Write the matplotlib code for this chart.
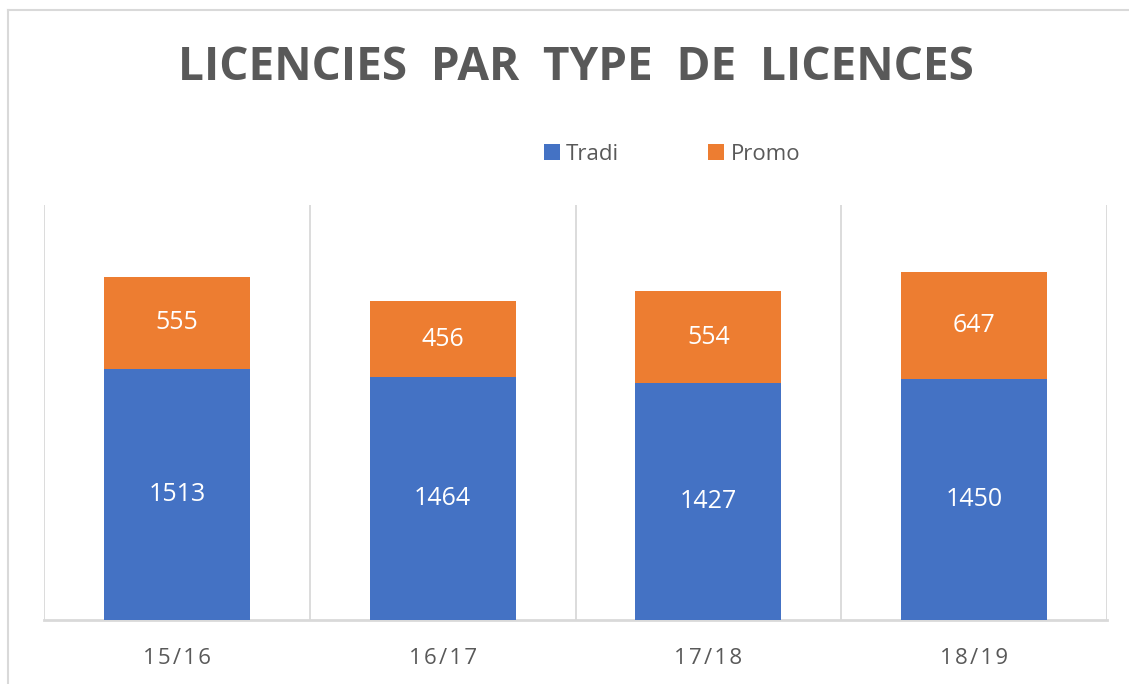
import matplotlib.pyplot as plt
from matplotlib.lines import Line2D
import numpy as np

seasons = ["15/16", "16/17", "17/18", "18/19"]
tradi = [1513, 1464, 1427, 1450]
promo = [555, 456, 554, 647]

blue = "#4472C4"
orange = "#ED7D31"
grey_txt = "#595959"
grid_col = "#D9D9D9"

plt.rcParams['font.family'] = ['Open Sans', 'DejaVu Sans']

fig = plt.figure(figsize=(11.29, 6.84), dpi=100)
ax = fig.add_axes([44/1129, 64/684, (1107-44)/1129, (620-205)/684])

x = np.arange(len(seasons))
b1 = ax.bar(x, tradi, width=0.55, color=blue, label="Tradi", zorder=3)
b2 = ax.bar(x, promo, width=0.55, bottom=tradi, color=orange, label="Promo", zorder=3)

for bars in (b1, b2):
    ax.bar_label(bars, label_type="center", color="white", fontsize=18)

ax.set_xlim(-0.5, len(seasons) - 0.5)
ax.set_ylim(0, 2500)
ax.set_yticks([])
ax.set_xticks(x)
ax.set_xticklabels(["\u200a".join(s) for s in seasons], color=grey_txt, fontsize=16)
ax.tick_params(axis="x", length=0, pad=20)

# vertical separators between categories
ax.set_xticks(np.arange(-0.5, len(seasons)), minor=True)
ax.tick_params(axis="x", which="minor", length=0)
ax.grid(axis="x", which="minor", color=grid_col, linewidth=1.3, zorder=0)

for side in ("top", "right", "left"):
    ax.spines[side].set_visible(False)
ax.spines["bottom"].set_color(grid_col)
ax.spines["bottom"].set_linewidth(2)

fig.text(576/1129, 1 - 68/684, "LICENCIES  PAR  TYPE  DE  LICENCES", ha="center", va="center",
         fontsize=33, fontweight="bold", color=grey_txt)

fig.legend(loc="center", bbox_to_anchor=(672/1129, 1 - 154/684), ncol=2,
           frameon=False, fontsize=16, labelcolor=grey_txt,
           handlelength=0.7, handleheight=0.7, handletextpad=0.3, columnspacing=4.0)

# outer chart frame
fig.add_artist(Line2D([8/1129, 8/1129], [0, 1 - 10/684], color=grid_col, linewidth=1.5))
fig.add_artist(Line2D([8/1129, 1], [1 - 10/684, 1 - 10/684], color=grid_col, linewidth=1.5))

fig.savefig("out.png", dpi=100)
